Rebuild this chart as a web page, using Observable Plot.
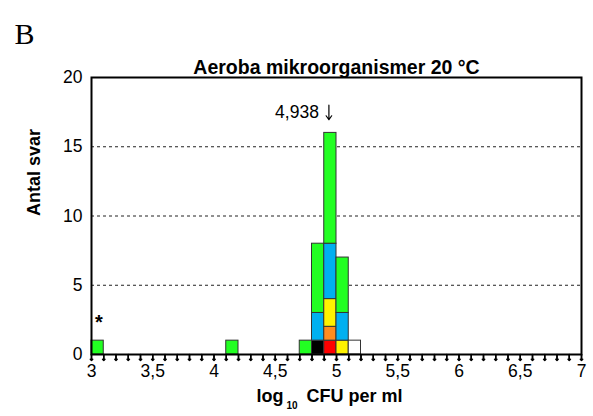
<!DOCTYPE html>
<html>
<head>
<meta charset="utf-8">
<script src="https://cdn.jsdelivr.net/npm/d3@7"></script>
<script src="https://cdn.jsdelivr.net/npm/@observablehq/plot@0.6"></script>
<style>
  html, body { margin: 0; padding: 0; background: #fff; }
</style>
</head>
<body>
<div id="chart"></div>
<script>
// Histogram segments (bin start, count, colour category), stacked bottom-up per bin
const binStart = [3.0, 4.1, 4.7, 4.8, 4.8, 4.8, 4.9, 4.9, 4.9, 4.9, 4.9, 5.0, 5.0, 5.0, 5.1];
const segCount = [1,   1,   1,   1,   2,   5,   1,   1,   2,   4,   8,   1,   2,   4,   1];
const segGroup = ["green","green","green","black","blue","green","red","orange","yellow","blue","green","yellow","blue","green","white"];
const groupColors = {green: "#22ff22", blue: "#00b0f0", yellow: "#fff200", orange: "#ff8c1e", red: "#ff0000", black: "#000000", white: "#ffffff"};
const binWidth = 0.1;
const xTicks = [3, 3.5, 4, 4.5, 5, 5.5, 6, 6.5, 7];
const yTicks = [0, 5, 10, 15, 20];
const gridValues = [5, 10, 15];
const medianValue = 4.938;
const medianLabel = "4,938";
const titleText = "Aeroba mikroorganismer 20 °C";
const panelLetter = "B";
const yLabel = "Antal svar";

const cum = {};
const segs = binStart.map((b, i) => {
  const k = b.toFixed(1);
  const y1 = cum[k] || 0;
  const y2 = y1 + segCount[i];
  cum[k] = y2;
  return {x1: b, x2: b + binWidth, y1, y2, fill: groupColors[segGroup[i]]};
});

const fmt = d => String(d).replace(".", ",");
const minor = d3.range(30, 71).map(d => d / 10);
const font = "'Liberation Sans', Arial, sans-serif";

const plot = Plot.plot({
  width: 593,
  height: 416,
  marginLeft: 91,
  marginRight: 12,
  marginTop: 77,
  marginBottom: 62,
  style: {fontFamily: font},
  x: {domain: [3, 7], axis: null},
  y: {domain: [0, 20], axis: null},
  marks: [
    Plot.ruleY(gridValues, {stroke: "#222", strokeWidth: 1, strokeDasharray: "3,3"}),
    Plot.rect(segs, {x1: "x1", x2: "x2", y1: "y1", y2: "y2", fill: d => d.fill, stroke: "#333", strokeWidth: 1}),
    Plot.frame({stroke: "#000", strokeWidth: 2}),
    Plot.ruleX(minor, {x: d => d, y1: () => 0, y2: () => -0.45, stroke: "#000", strokeWidth: 1.5}),
    Plot.vector(minor, {x: d => d, y: () => 0, length: 6, rotate: 180, anchor: "start", stroke: "#000", strokeWidth: 1.5}),
    Plot.text(xTicks, {x: d => d, frameAnchor: "bottom", dy: 22, text: fmt, fontSize: 17.5, fill: "#000"}),
    Plot.text(yTicks, {y: d => d, frameAnchor: "left", dx: -9, textAnchor: "end", text: d => String(d), fontSize: 17.5, fill: "#000"}),
    Plot.text([medianLabel], {x: [medianValue], y: [17.45], text: d => d, textAnchor: "end", dx: -10, fontSize: 17.5, fill: "#000"}),
    Plot.arrow([medianValue], {x1: d => d, x2: d => d, y1: () => 18.0, y2: () => 16.95, stroke: "#000", strokeWidth: 1.2, headLength: 7, headAngle: 70}),
    Plot.text(["*"], {x: [3.06], y: [2.3], text: d => d, fontSize: 20, fontWeight: "bold", fill: "#000"}),
    Plot.text([titleText], {frameAnchor: "top", dy: -17, text: d => d, fontSize: 19.5, fontWeight: "bold", fill: "#000"}),
    Plot.text([panelLetter], {frameAnchor: "top-left", dx: -77, dy: -55, textAnchor: "start", text: d => d, fontSize: 30, fontFamily: "'Liberation Serif', 'Times New Roman', serif", fill: "#000"}),
    Plot.text([yLabel], {frameAnchor: "left", dx: -57, rotate: -90, text: d => d, fontSize: 18, fontWeight: "bold", fill: "#000"}),
    Plot.text(["log"], {frameAnchor: "bottom-left", dx: 165, dy: 47, textAnchor: "start", text: d => d, fontSize: 18, fontWeight: "bold", fill: "#000"}),
    Plot.text(["10"], {frameAnchor: "bottom-left", dx: 195, dy: 54, textAnchor: "start", text: d => d, fontSize: 10, fontWeight: "bold", fill: "#000"}),
    Plot.text(["CFU per ml"], {frameAnchor: "bottom-left", dx: 215, dy: 47, textAnchor: "start", text: d => d, fontSize: 18, fontWeight: "bold", fill: "#000"})
  ]
});
document.getElementById("chart").appendChild(plot);
</script>
</body>
</html>
